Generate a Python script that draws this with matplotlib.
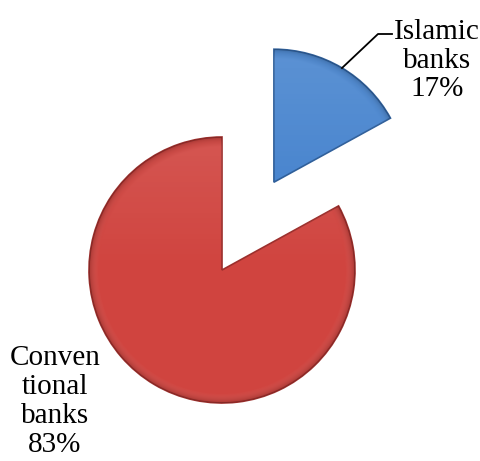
import numpy as np
import matplotlib
matplotlib.use('Agg')
import matplotlib.pyplot as plt

labels = ['Islamic\nbanks\n17%', 'Conven\ntional\nbanks\n83%']
shares = [17, 83]
colors = ['#4a86cf', '#d0443f']
edge_colors = ['#2f5f9a', '#9c2f2c']

plt.rcParams['font.family'] = ['Liberation Serif', 'DejaVu Serif']

fig = plt.figure(figsize=(4.81, 4.61), dpi=100)
ax = fig.add_axes([0, 0, 1, 1])

center = (222, 191)
radius = 133
# matplotlib's explode is an absolute offset in data units
explode = [102, 0]

wedges, _ = ax.pie(shares, explode=explode, colors=colors, startangle=90,
                   counterclock=False, center=center, radius=radius,
                   frame=True, wedgeprops=dict(edgecolor='none'))
ax.set_xlim(0, 481)
ax.set_ylim(0, 461)
ax.set_aspect('equal')
ax.axis('off')

# soft bevel shading: darker rim, lighter top
for w, ec in zip(wedges, edge_colors):
    w.set_edgecolor(ec)
    w.set_linewidth(1.2)
    cx, cy = w.center
    yy, xx = np.mgrid[cy - radius:cy + radius:300j, cx - radius:cx + radius:300j]
    rr = np.hypot(xx - cx, yy - cy) / radius
    shade = np.zeros(xx.shape + (4,))
    shade[..., :3] = 1.0
    shade[..., 3] = np.clip((yy - cy) / radius, 0, 1) * 0.10
    rim = np.clip((rr - 0.93) / 0.07, 0, 1)
    shade[..., :3] = shade[..., :3] * (1 - rim[..., None])
    shade[..., 3] = np.maximum(shade[..., 3], rim * 0.18)
    im = ax.imshow(shade, extent=(cx - radius, cx + radius, cy - radius, cy + radius),
                   origin='lower', zorder=w.get_zorder() + 0.1, interpolation='bilinear')
    im.set_clip_path(w)

ax.set_xlim(0, 481)
ax.set_ylim(0, 461)

# va='baseline' pins the last line's baseline
ax.text(437, 365, labels[0], ha='center', va='baseline', fontsize=21,
        linespacing=1.12, color='black')
ax.text(55, 9, labels[1], ha='center', va='baseline', fontsize=21,
        linespacing=1.15, color='black')
ax.plot([342, 378, 392], [393, 427, 427], color='black', lw=1.3)

fig.savefig('out.png', dpi=100)
